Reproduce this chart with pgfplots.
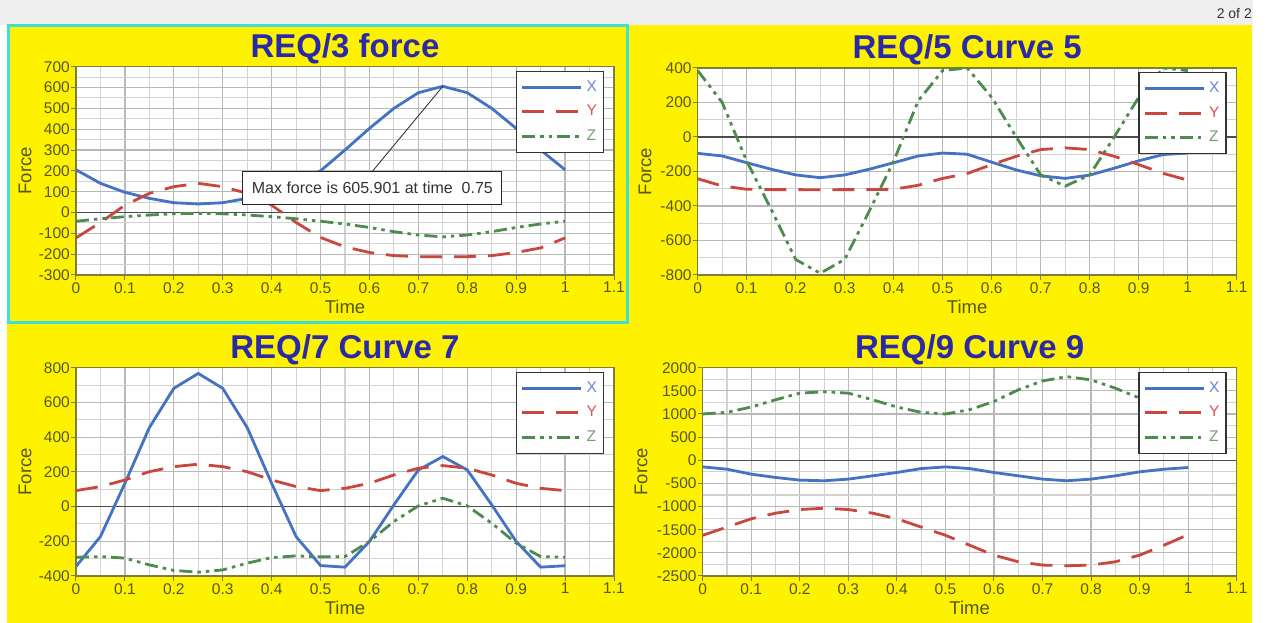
\documentclass[border=0pt]{standalone}
\usepackage{fontspec}
\setmainfont{Liberation Sans}
\usepackage{pgfplots}
\usepackage{pgfplotstable}
\pgfplotsset{compat=1.18}
\definecolor{cX}{HTML}{4472C4}
\definecolor{cY}{HTML}{C9473E}
\definecolor{cZ}{HTML}{4E8B4E}
\definecolor{lX}{HTML}{6585D8}
\definecolor{lY}{HTML}{D9534F}
\definecolor{lZ}{HTML}{6E9E6E}
\definecolor{ttl}{HTML}{2A2AA8}
\definecolor{tickc}{HTML}{55551A}
\definecolor{framec}{HTML}{7D7D3C}
\definecolor{gmaj}{HTML}{B8B8B8}
\definecolor{gmin}{HTML}{D2D2D2}
\definecolor{cyanb}{HTML}{40E0D8}
\definecolor{stripc}{HTML}{EFEFEF}

\pgfplotstableread{
t x y z
0 205 -122 -42
0.05 140 -48 -30
0.1 97 35 -20
0.15 68 92 -12
0.2 47 124 -6
0.25 41 140 -4
0.3 47 124 -6
0.35 68 92 -12
0.4 100 35 -20
0.45 145 -48 -30
0.5 200 -120 -42
0.55 300 -165 -55
0.6 404 -192 -72
0.65 500 -207 -92
0.7 575 -212 -108
0.75 605.901 -213 -117
0.8 575 -212 -108
0.85 500 -207 -92
0.9 404 -192 -72
0.95 300 -170 -55
1 205 -122 -42
}\tabA

\pgfplotstableread{
t x y z
0 -95 -242 385
0.05 -110 -284 200
0.1 -149 -303 -140
0.15 -187 -305 -420
0.2 -220 -305 -710
0.25 -236 -306 -790
0.3 -220 -305 -710
0.35 -187 -305 -430
0.4 -149 -303 -140
0.45 -110 -280 210
0.5 -93 -240 385
0.55 -100 -212 400
0.6 -146 -160 230
0.65 -191 -112 0
0.7 -225 -73 -220
0.75 -240 -63 -285
0.8 -221 -73 -220
0.85 -181 -112 0
0.9 -138 -160 230
0.95 -102 -211 400
1 -93 -250 385
}\tabB

\pgfplotstableread{
t x y z
0 -345 92 -292
0.05 -173 115 -288
0.1 134 153 -297
0.15 455 201 -336
0.2 681 230 -368
0.25 767 244 -378
0.3 681 230 -365
0.35 455 201 -326
0.4 134 153 -294
0.45 -173 115 -284
0.5 -340 92 -290
0.55 -349 105 -288
0.6 -201 134 -201
0.65 10 182 -86
0.7 211 221 4
0.75 288 236 48
0.8 211 221 4
0.85 10 182 -96
0.9 -201 134 -211
0.95 -349 105 -288
1 -341 92 -292
}\tabC

\pgfplotstableread{
t x y z
0 -143 -1621 1000
0.05 -193 -1443 1036
0.1 -300 -1264 1150
0.15 -371 -1143 1307
0.2 -429 -1064 1450
0.25 -443 -1036 1480
0.3 -407 -1064 1450
0.35 -336 -1143 1307
0.4 -264 -1264 1150
0.45 -179 -1443 1036
0.5 -143 -1620 1000
0.55 -179 -1836 1093
0.6 -264 -2050 1271
0.65 -336 -2193 1521
0.7 -407 -2264 1714
0.75 -443 -2279 1807
0.8 -407 -2264 1736
0.85 -336 -2193 1557
0.9 -250 -2050 1343
0.95 -193 -1836 1150
1 -157 -1607 1000
}\tabD

\pgfplotsset{
 panel/.style={
  scale only axis,
  xmin=0, xmax=1.1,
  xtick={0,0.1,0.2,0.3,0.4,0.5,0.6,0.7,0.8,0.9,1,1.1},
  xticklabels={0,0.1,0.2,0.3,0.4,0.5,0.6,0.7,0.8,0.9,1,1.1},
  minor x tick num=1, minor y tick num=1,
  grid=both,
  major grid style={gmaj, line width=1.2pt},
  minor grid style={gmin, line width=1.1pt},
  axis background/.style={fill=white},
  axis line style={framec, line width=1.2pt},
  every tick/.style={framec, line width=1pt},
  major tick length=5pt, minor tick length=0pt,
  tick align=outside, tick pos=left,
  tick label style={font=\fontsize{15.5}{16}\selectfont, text=tickc},
  /pgf/number format/assume math mode=true,
  /pgf/number format/set thousands separator={},
  scaled ticks=false,
  xticklabel style={inner sep=1pt, yshift=-1pt},
  yticklabel style={inner sep=1pt},
  xlabel=Time, ylabel=Force,
  label style={font=\fontsize{18.5}{20}\selectfont, text=tickc},
  xlabel style={at={(axis description cs:0.5,-0.152)}, anchor=center},
  title style={font=\bfseries\fontsize{33}{36}\selectfont, text=ttl, at={(axis description cs:0.5,1)}, anchor=base, yshift=3.5pt},
  legend style={at={(axis description cs:1,1)}, anchor=north east, xshift=-10pt, yshift=-4pt,
    fill=white, draw=black!80, line width=1.3pt, inner xsep=4.5pt, inner ysep=6.8pt,
    row sep=6.7pt, column sep=2pt,
    nodes={inner sep=2pt, text height=11pt, text depth=3pt, font=\fontsize{15.5}{16}\selectfont}},
  legend cell align=left,
  legend image code/.code={\draw[##1] (0pt,0pt) -- (59pt,0pt);},
 },
 sx/.style={cX, line width=2.8pt},
 sy/.style={cY, line width=2.8pt, dash pattern=on 22pt off 12pt},
 sz/.style={cZ, line width=2.8pt, dash pattern=on 13pt off 5pt on 3.5pt off 5pt on 3.5pt off 5pt},
 zl/.style={black!70, line width=1.2pt, forget plot},
}

\begin{document}
\begin{tikzpicture}
\useasboundingbox (0pt,0pt) rectangle (1267pt,623pt);
\fill[white] (0pt,0pt) rectangle (1267pt,623pt);
\fill[stripc] (0pt,598pt) rectangle (1253pt,623pt);
\fill[yellow] (7pt,0pt) rectangle (1252pt,598pt);
\draw[cyanb, line width=3pt] (8pt,300pt) rectangle (627pt,597pt);
\node[anchor=base east, font=\fontsize{14}{16}\selectfont, text=black!80, inner sep=0pt] at (1252pt,604.7pt) {2 of 2};

% Panel 1
\begin{axis}[panel, at={(76pt,348pt)}, anchor=south west, width=538pt, height=208.3pt,
  ymin=-300, ymax=700, ytick={-300,-200,...,700},
  ylabel style={at={(axis description cs:-0.0948,0.5)}, anchor=center},
  title={REQ/3 force}]
\addplot[zl] coordinates {(0,0) (1.1,0)};
\addplot[sx] table[x=t,y=x] {\tabA}; \addlegendentry{\textcolor{lX}{X}}
\addplot[sy] table[x=t,y=y] {\tabA}; \addlegendentry{\textcolor{lY}{Y}}
\addplot[sz] table[x=t,y=z] {\tabA}; \addlegendentry{\textcolor{lZ}{Z}}
\draw[black!85, line width=0.8pt] (axis cs:0.6065,199) -- (axis cs:0.75,605.901);
\node[fill=white, draw=black!85, line width=1pt, minimum width=259pt, minimum height=33pt, inner sep=0pt,
  font=\fontsize{16}{18}\selectfont, text=black!80] at (axis cs:0.606,120) {Max force is 605.901 at time\ \ 0.75};
\end{axis}

% Panel 2
\begin{axis}[panel, at={(697.7pt,348pt)}, anchor=south west, width=539pt, height=207pt,
  ymin=-800, ymax=400, ytick={-800,-600,...,400},
  ylabel style={at={(axis description cs:-0.0978,0.5)}, anchor=center},
  title={REQ/5 Curve 5}]
\addplot[zl] coordinates {(0,0) (1.1,0)};
\addplot[sx] table[x=t,y=x] {\tabB}; \addlegendentry{\textcolor{lX}{X}}
\addplot[sy] table[x=t,y=y] {\tabB}; \addlegendentry{\textcolor{lY}{Y}}
\addplot[sz] table[x=t,y=z] {\tabB}; \addlegendentry{\textcolor{lZ}{Z}}
\end{axis}

% Panel 3
\begin{axis}[panel, at={(76pt,47pt)}, anchor=south west, width=538pt, height=208.3pt,
  ymin=-400, ymax=800, ytick={-400,-200,...,800},
  ylabel style={at={(axis description cs:-0.0948,0.5)}, anchor=center},
  title={REQ/7 Curve 7}]
\addplot[zl] coordinates {(0,0) (1.1,0)};
\addplot[sx] table[x=t,y=x] {\tabC}; \addlegendentry{\textcolor{lX}{X}}
\addplot[sy] table[x=t,y=y] {\tabC}; \addlegendentry{\textcolor{lY}{Y}}
\addplot[sz] table[x=t,y=z] {\tabC}; \addlegendentry{\textcolor{lZ}{Z}}
\end{axis}

% Panel 4
\begin{axis}[panel, at={(702.7pt,47pt)}, anchor=south west, width=534pt, height=208.3pt,
  ymin=-2500, ymax=2000, ytick={-2500,-2000,...,2000},
  ylabel style={at={(axis description cs:-0.1155,0.5)}, anchor=center},
  title={REQ/9 Curve 9}]
\addplot[zl] coordinates {(0,0) (1.1,0)};
\addplot[sx] table[x=t,y=x] {\tabD}; \addlegendentry{\textcolor{lX}{X}}
\addplot[sy] table[x=t,y=y] {\tabD}; \addlegendentry{\textcolor{lY}{Y}}
\addplot[sz] table[x=t,y=z] {\tabD}; \addlegendentry{\textcolor{lZ}{Z}}
\end{axis}
\end{tikzpicture}
\end{document}
